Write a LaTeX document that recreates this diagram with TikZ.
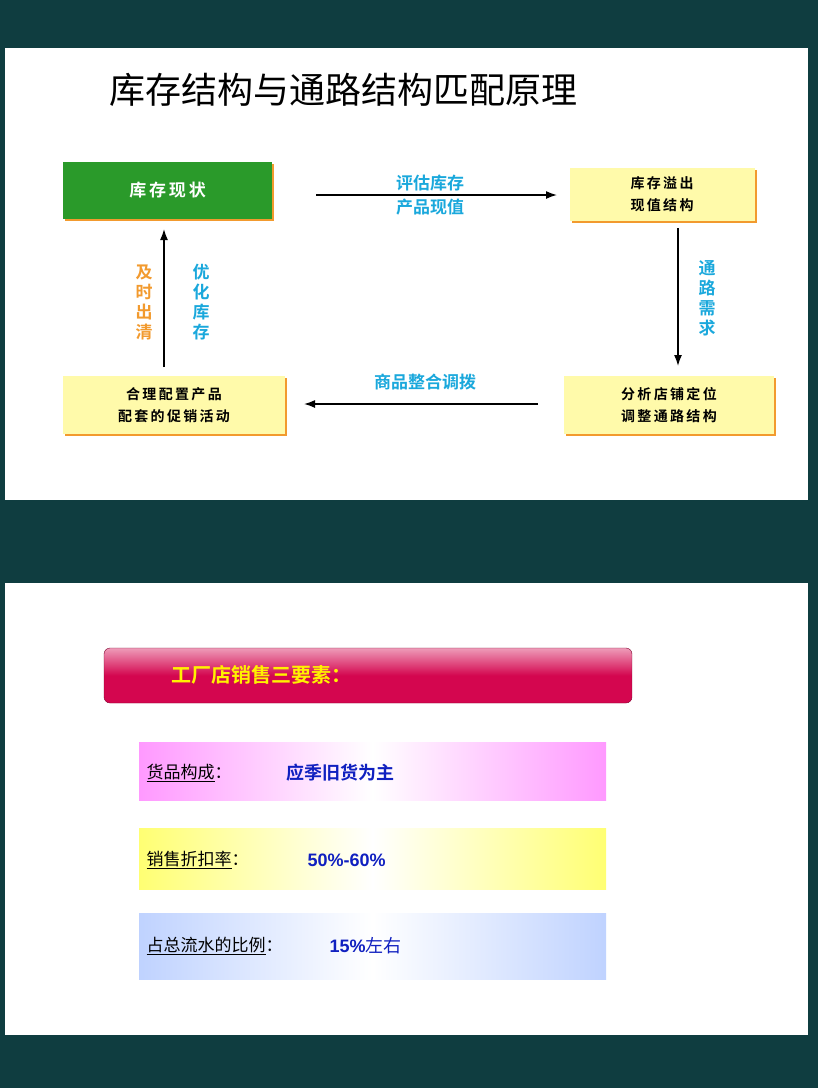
\documentclass[tikz,border=0pt]{standalone}
\usepackage{fontspec}
\setmainfont{Liberation Sans}
\newfontfamily\cjk{Noto Sans CJK SC}
\newfontfamily\cjkb{Noto Sans CJK SC Bold}
\usetikzlibrary{shadows,arrows.meta}
\definecolor{bg}{HTML}{0F3D40}
\definecolor{cyn}{HTML}{1AA8DC}
\definecolor{org}{HTML}{F29A2E}
\definecolor{grn}{HTML}{2A9A2A}
\definecolor{ylw}{HTML}{FFFAAA}
\definecolor{crim}{HTML}{D4064F}
\definecolor{blu}{HTML}{1020C0}
\tikzset{
 ybox/.style={draw=none,fill=ylw,drop shadow={shadow xshift=2pt,shadow yshift=-2pt,fill=org,opacity=1},font=\cjkb\fontsize{14}{22}\selectfont,align=center},
 lbl/.style={font=\cjkb\fontsize{17}{24}\selectfont,align=center},
 vlbl/.style={font=\cjkb\fontsize{17}{20}\selectfont,align=center},
 arr/.style={-{Latex[length=11pt,width=8pt]},line width=1.5pt},
 lab/.style={font=\cjk\fontsize{17}{20}\selectfont,anchor=west},
 val/.style={font=\bfseries\fontsize{18}{20}\selectfont,text=blu,anchor=west}
}
\begin{document}
\begin{tikzpicture}[x=1pt,y=-1pt]
\fill[bg] (0,0) rectangle (818,1088);
\useasboundingbox (0,0) rectangle (818,1088);
\fill[white] (5,48) rectangle (808,500);
\fill[white] (5,583) rectangle (808,1035);
\node[font=\cjk\fontsize{36}{38}\selectfont,anchor=west] (title) at (106,90) {库存结构与通路结构匹配原理};
\node[fill=grn,minimum width=209pt,minimum height=57pt,text=white,font=\cjkb\fontsize{17}{19}\selectfont,drop shadow={shadow xshift=2pt,shadow yshift=-2pt,fill=org,opacity=1}] (a) at (167.5,190.5) {库\,存\,现\,状};
\node[ybox,minimum width=185pt,minimum height=53pt] (b) at (662,194) {库\,存\,溢\,出\\现\,值\,结\,构};
\node[ybox,minimum width=210pt,minimum height=58pt] (c) at (669,405) {分\,析\,店\,铺\,定\,位\\调\,整\,通\,路\,结\,构};
\node[ybox,minimum width=222pt,minimum height=58pt] (d) at (174,405) {合\,理\,配\,置\,产\,品\\配\,套\,的\,促\,销\,活\,动};
\coordinate (a1) at (316,195); \coordinate (a2) at (557,195);
\draw[arr] (a1) -- (a2);
\node[lbl,text=cyn] (l1) at (430,195) {评估库存\\产品现值};
\coordinate (b1) at (678,228); \coordinate (b2) at (678,366);
\draw[arr] (b1) -- (b2);
\node[vlbl,text=cyn] (l2) at (707,298) {通\\路\\需\\求};
\coordinate (c1) at (538,404); \coordinate (c2) at (304,404);
\draw[arr] (c1) -- (c2);
\node[lbl,text=cyn] (l3) at (425,382) {商品整合调拨};
\coordinate (d1) at (164,367); \coordinate (d2) at (164,229);
\draw[arr] (d1) -- (d2);
\node[vlbl,text=org] (l4) at (144,302) {及\\时\\出\\清};
\node[vlbl,text=cyn] (l5) at (201,302) {优\\化\\库\\存};
% bottom
\node[draw=crim!60!black,rounded corners=6pt,minimum width=528pt,minimum height=55pt,top color=crim!40,bottom color=crim,middle color=crim,shading angle=0] (ban) at (368,675.5) {};
\node[font=\cjkb\fontsize{20}{22}\selectfont,text=yellow,anchor=west] (bt) at (168,675) {工厂店销售三要素：};
\shade[left color=magenta!40,right color=magenta!40,middle color=white] (139,742) rectangle (606,800);
\node[lab] (p1) at (143,773) {\underline{货品构成}：};
\node[val,font=\cjkb\fontsize{18}{20}\selectfont] (v1) at (283,773) {应季旧货为主};
\shade[left color=yellow!55,right color=yellow!55,middle color=white] (139,828) rectangle (606,889);
\node[lab] (p2) at (143,860) {\underline{销售折扣率}：};
\node[val] (v2) at (304,860) {50\%-60\%};
\shade[left color=cyan!30!blue!25,right color=cyan!30!blue!25,middle color=white] (139,913) rectangle (606,979);
\node[lab] (p3) at (143,946) {\underline{占总流水的比例}：};
\node[val] (v3) at (326,946) {15\%{\cjk\mdseries 左右}};
\end{tikzpicture}
\end{document}
